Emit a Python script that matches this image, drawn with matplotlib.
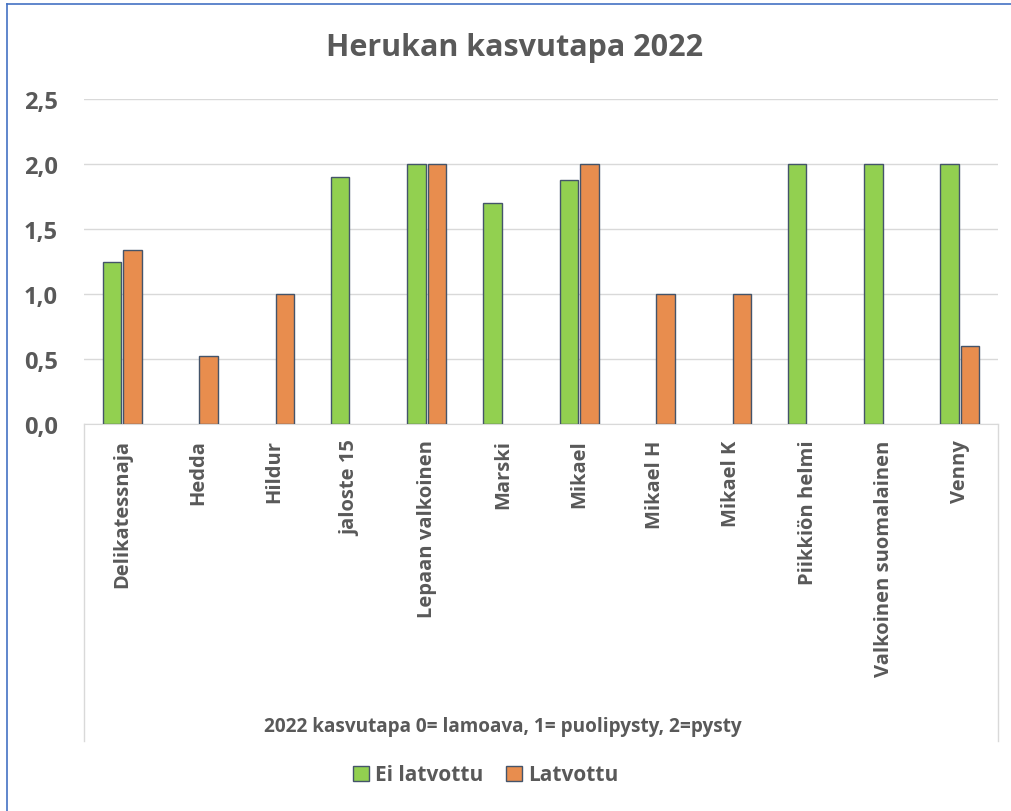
import numpy as np
import matplotlib
matplotlib.use("Agg")
import matplotlib.pyplot as plt
from matplotlib.lines import Line2D
from matplotlib.ticker import FuncFormatter

plt.rcParams['font.family'] = ['Open Sans', 'DejaVu Sans']

lajikkeet = ['Delikatessnaja', 'Hedda', 'Hildur', 'jaloste 15', 'Lepaan valkoinen',
             'Marski', 'Mikael', 'Mikael H', 'Mikael K', 'Piikkiön helmi',
             'Valkoinen suomalainen', 'Venny']
ei_latvottu = [1.25, np.nan, np.nan, 1.9, 2.0, 1.7, 1.88, np.nan, np.nan, 2.0, 2.0, 2.0]
latvottu = [1.34, 0.52, 1.0, np.nan, 2.0, np.nan, 2.0, 1.0, 1.0, np.nan, np.nan, 0.6]
y_ticks = [0, 0.5, 1.0, 1.5, 2.0, 2.5]

txt = '#595959'
W, H = 1011, 812
fig = plt.figure(figsize=(W / 100, H / 100), dpi=100)
ax = fig.add_axes([84 / W, (H - 425) / H, (998 - 84) / W, (425 - 100) / H])

x = np.arange(len(lajikkeet))
bw = 0.24
ax.bar(x - 0.135, ei_latvottu, bw, color='#92D050', edgecolor='#44546A', linewidth=1,
       label='Ei latvottu', zorder=3)
ax.bar(x + 0.135, latvottu, bw, color='#E88D4E', edgecolor='#44546A', linewidth=1,
       label='Latvottu', zorder=3)

ax.set_xlim(-0.5, len(lajikkeet) - 0.5)
ax.set_ylim(0, 2.5)
ax.set_yticks(y_ticks)
ax.yaxis.set_major_formatter(FuncFormatter(lambda v, p: f'{v:.1f}'.replace('.', ',')))
ax.grid(axis='y', color='#D9D9D9', linewidth=1, zorder=0)
for s in ['top', 'right', 'left']:
    ax.spines[s].set_visible(False)
ax.spines['bottom'].set_color('#D9D9D9')
ax.tick_params(axis='y', length=0, pad=19, labelsize=17, labelcolor=txt)
ax.tick_params(axis='x', length=0, pad=11, labelsize=14.5, labelcolor=txt)
for lbl in ax.get_yticklabels():
    lbl.set_fontweight('bold')
ax.set_xticks(x)
ax.set_xticklabels(lajikkeet, rotation=90, fontweight='bold', va='top', ha='center')

# category axis box lines
depth = (742 - 425) / (425 - 100)
for xx in (0, 1):
    ax.add_line(Line2D([xx, xx], [0, -depth], transform=ax.transAxes, color='#D9D9D9',
                       linewidth=1, clip_on=False))

fig.text(515 / W, 1 - 48 / H, 'Herukan kasvutapa 2022', ha='center', va='center',
         fontsize=22, fontweight='bold', color=txt)
fig.text(503 / W, 1 - 727 / H, '2022 kasvutapa 0= lamoava, 1= puolipysty, 2=pysty',
         ha='center', va='center', fontsize=13.7, fontweight='bold', color=txt)

leg = fig.legend(loc='center', bbox_to_anchor=(486 / W, 1 - 776 / H), ncol=2, frameon=False,
                 fontsize=15, handlelength=0.75, handleheight=0.75, handletextpad=0.3,
                 columnspacing=1.1)
for t in leg.get_texts():
    t.set_color(txt)
    t.set_fontweight('bold')

# figure border (left and top visible)
fig.add_artist(Line2D([7 / W, 7 / W], [0, 1 - 5 / H], transform=fig.transFigure,
                      color='#4472C4', linewidth=1.2))
fig.add_artist(Line2D([7 / W, 1], [1 - 5 / H, 1 - 5 / H], transform=fig.transFigure,
                      color='#4472C4', linewidth=1.2))

fig.savefig('out.png', dpi=100)
